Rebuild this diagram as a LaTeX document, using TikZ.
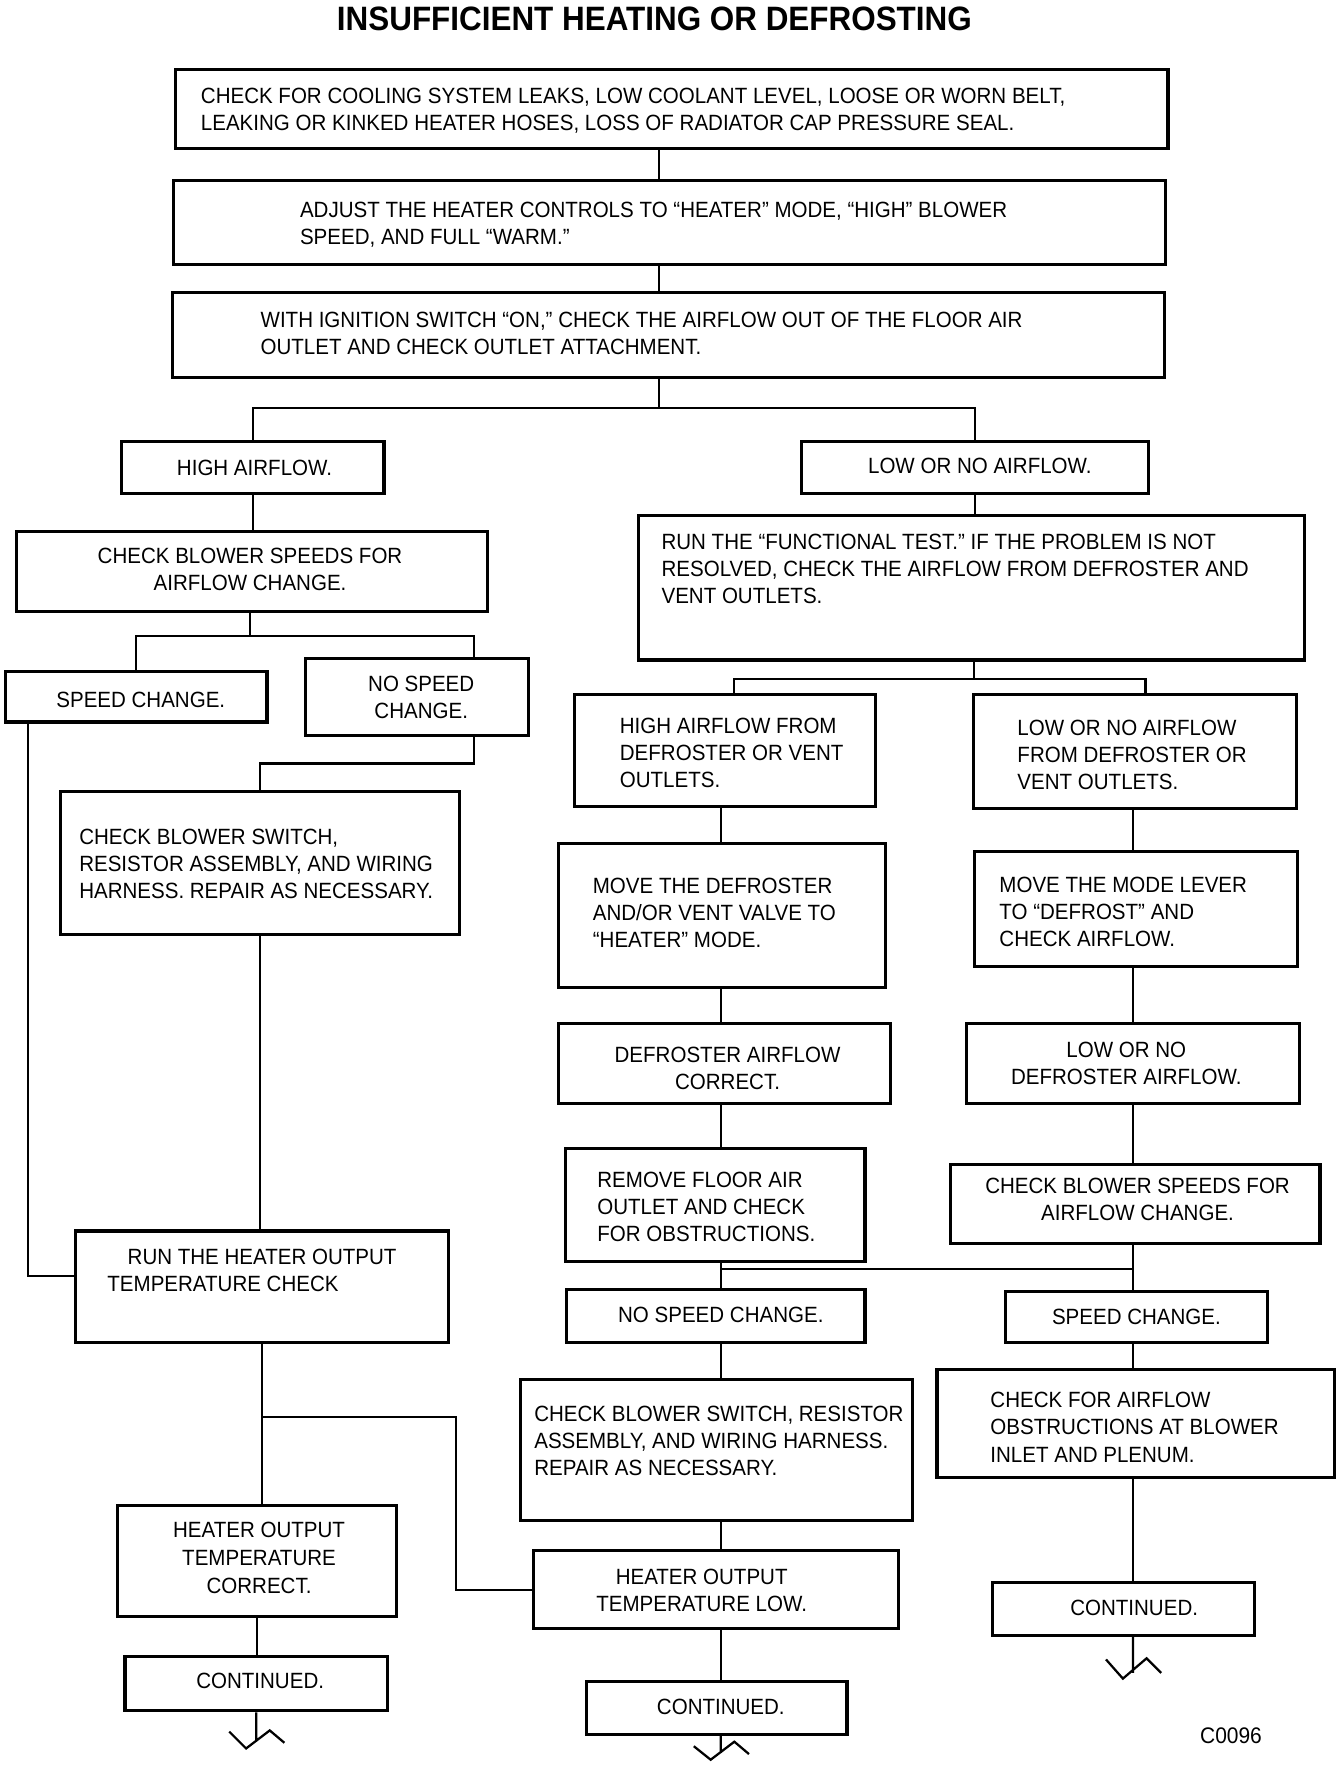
\documentclass[tikz,border=0pt]{standalone}
\usepackage{fontspec}
\setmainfont{Liberation Sans}[FakeStretch=0.93]
\newfontfamily\titlefont{Liberation Sans}[FakeStretch=0.93]
\usetikzlibrary{fit}

\begin{document}
\begin{tikzpicture}[
  x=0.5pt, y=-0.5pt,
  font=\fontsize{9.8}{12}\selectfont,
  box/.style={draw,line width=1.4pt,inner sep=0pt},
  txt/.style={anchor=north west,align=left,inner sep=0pt},
  ctxt/.style={anchor=north,align=center,inner sep=0pt},
  wire/.style={line width=1pt}
]
\useasboundingbox (0,0) rectangle (1193,1568);

\node[font=\titlefont\bfseries\fontsize{15}{18}\selectfont] (title) at (581,17) {INSUFFICIENT HEATING OR DEFROSTING};

\node[box,fit={(156,62) (1037,132)}] (cool) {};
\node[txt] (coolT) at (178,78) {CHECK FOR COOLING SYSTEM LEAKS, LOW COOLANT LEVEL, LOOSE OR WORN BELT,\\LEAKING OR KINKED HEATER HOSES, LOSS OF RADIATOR CAP PRESSURE SEAL.};
\node[box,fit={(154,160) (1035,235)}] (adj) {};
\node[txt] (adjT) at (266,179) {ADJUST THE HEATER CONTROLS TO “HEATER” MODE, “HIGH” BLOWER\\SPEED, AND FULL “WARM.”};
\node[box,fit={(153,260) (1034,335)}] (ign) {};
\node[txt] (ignT) at (231,277) {WITH IGNITION SWITCH “ON,” CHECK THE AIRFLOW OUT OF THE FLOOR AIR\\OUTLET AND CHECK OUTLET ATTACHMENT.};

\node[box,fit={(108,392) (341,438)}] (hiair) {};
\node[ctxt] (hiairT) at (226,408) {HIGH AIRFLOW.};
\node[box,fit={(712,392) (1020,438)}] (lowair) {};
\node[ctxt] (lowairT) at (870,406) {LOW OR NO AIRFLOW.};

\node[box,fit={(15,472) (433,543)}] (blowL) {};
\node[ctxt] (blowLT) at (222,486) {CHECK BLOWER SPEEDS FOR\\AIRFLOW CHANGE.};
\node[box,fit={(5,596) (237,641)}] (spdL) {};
\node[ctxt] (spdLT) at (125,614) {SPEED CHANGE.};
\node[box,fit={(271,585) (469,653)}] (nospdL) {};
\node[ctxt] (nospdLT) at (374,600) {NO SPEED\\CHANGE.};
\node[box,fit={(54,703) (408,830)}] (cbsL) {};
\node[txt] (cbsLT) at (70,736) {CHECK BLOWER SWITCH,\\RESISTOR ASSEMBLY, AND WIRING\\HARNESS. REPAIR AS NECESSARY.};
\node[box,fit={(67,1093) (398,1192)}] (runH) {};
\node[txt] (runHT) at (95,1109) {\hspace*{9pt}RUN THE HEATER OUTPUT\\TEMPERATURE CHECK};
\node[box,fit={(104,1337) (352,1435)}] (hcorr) {};
\node[ctxt,font=\fontsize{9.8}{12.5}\selectfont] (hcorrT) at (230,1351) {HEATER OUTPUT\\TEMPERATURE\\CORRECT.};
\node[box,fit={(111,1471) (344,1519)}] (contL) {};
\node[ctxt] (contLT) at (231,1485) {CONTINUED.};

\node[box,fit={(567,458) (1158,586)}] (func) {};
\node[txt] (funcT) at (587,474) {RUN THE “FUNCTIONAL TEST.” IF THE PROBLEM IS NOT\\RESOLVED, CHECK THE AIRFLOW FROM DEFROSTER AND\\VENT OUTLETS.};
\node[box,fit={(510,617) (777,716)}] (hiF) {};
\node[txt] (hiFT) at (550,637) {HIGH AIRFLOW FROM\\DEFROSTER OR VENT\\OUTLETS.};
\node[box,fit={(864,617) (1151,718)}] (loF) {};
\node[txt] (loFT) at (903,639) {LOW OR NO AIRFLOW\\FROM DEFROSTER OR\\VENT OUTLETS.};
\node[box,fit={(496,749) (786,877)}] (movD) {};
\node[txt] (movDT) at (526,779) {MOVE THE DEFROSTER\\AND/OR VENT VALVE TO\\“HEATER” MODE.};
\node[box,fit={(865,756) (1152,858)}] (modeL) {};
\node[txt] (modeLT) at (887,778) {MOVE THE MODE LEVER\\TO “DEFROST” AND\\CHECK AIRFLOW.};
\node[box,fit={(496,909) (791,980)}] (dcorr) {};
\node[ctxt] (dcorrT) at (646,929) {DEFROSTER AIRFLOW\\CORRECT.};
\node[box,fit={(858,909) (1154,980)}] (lodef) {};
\node[ctxt] (lodefT) at (1000,925) {LOW OR NO\\DEFROSTER AIRFLOW.};
\node[box,fit={(502,1020) (768,1120)}] (remF) {};
\node[txt] (remFT) at (530,1040) {REMOVE FLOOR AIR\\OUTLET AND CHECK\\FOR OBSTRUCTIONS.};
\node[box,fit={(844,1034) (1172,1104)}] (blowR) {};
\node[ctxt] (blowRT) at (1010,1046) {CHECK BLOWER SPEEDS FOR\\AIRFLOW CHANGE.};
\node[box,fit={(503,1145) (768,1192)}] (nospdM) {};
\node[ctxt] (nospdMT) at (640,1160) {NO SPEED CHANGE.};
\node[box,fit={(893,1147) (1125,1192)}] (spdR) {};
\node[ctxt] (spdRT) at (1009,1162) {SPEED CHANGE.};
\node[box,fit={(462,1225) (810,1350)}] (cbsM) {};
\node[txt] (cbsMT) at (474,1248) {CHECK BLOWER SWITCH, RESISTOR\\ASSEMBLY, AND WIRING HARNESS.\\REPAIR AS NECESSARY.};
\node[box,fit={(832,1216) (1185,1312)}] (obst) {};
\node[txt] (obstT) at (879,1236) {CHECK FOR AIRFLOW\\OBSTRUCTIONS AT BLOWER\\INLET AND PLENUM.};
\node[box,fit={(474,1377) (798,1446)}] (hlow) {};
\node[ctxt] (hlowT) at (623,1393) {HEATER OUTPUT\\TEMPERATURE LOW.};
\node[box,fit={(521,1493) (752,1540)}] (contM) {};
\node[ctxt] (contMT) at (640,1508) {CONTINUED.};
\node[box,fit={(881,1405) (1114,1452)}] (contR) {};
\node[ctxt] (contRT) at (1007,1420) {CONTINUED.};

\node[font=\fontsize{10}{12}\selectfont] (code) at (1093,1541) {C0096};

\coordinate (j1) at (585,362);
\coordinate (j2) at (222,565);
\coordinate (j2b) at (421,565);
\coordinate (j3) at (421,678);
\coordinate (j4) at (25,1133);
\coordinate (j5) at (405,1258);
\coordinate (j6) at (865,603);
\coordinate (j6a) at (652,603);
\coordinate (j6b) at (1017,603);
\coordinate (tee) at (640,1127);
\coordinate (mcol) at (640,0);
\coordinate (rcol) at (1006,0);

\draw[wire] (cool.south -| j1) -- (adj.north -| j1);
\draw[wire] (adj.south -| j1) -- (ign.north -| j1);
\draw[wire] (ign.south -| j1) -- (j1);
\draw[wire] (hiair.north) |- (j1) -| (lowair.north);

\draw[wire] (hiair.south) -- (hiair.south |- blowL.north);
\draw[wire] (blowL.south -| j2) -- (j2);
\draw[wire] (spdL.north) |- (j2b) -- (nospdL.north -| j2b);
\draw[wire] (nospdL.south -| j3) -- (j3) -| (cbsL.north);
\draw[wire] (spdL.south -| j4) -- (j4) -- (j4 -| runH.west);
\draw[wire] (cbsL.south) -- (cbsL.south |- runH.north);
\draw[wire] (runH.south) -- (runH.south |- hcorr.north);
\draw[wire] (runH.south |- j5) -- (j5) |- (hlow.west);
\draw[wire] (hcorr.south) -- (hcorr.south |- contL.north);

\draw[wire] (lowair.south) -- (lowair.south |- func.north);
\draw[wire] (func.south -| j6) -- (j6);
\draw[wire] (hiF.north -| j6a) -- (j6a) -- (j6b) -- (loF.north -| j6b);

\draw[wire] (hiF.south -| mcol) -- (movD.north -| mcol);
\draw[wire] (movD.south -| mcol) -- (dcorr.north -| mcol);
\draw[wire] (dcorr.south -| mcol) -- (remF.north -| mcol);
\draw[wire] (remF.south -| mcol) -- (nospdM.north -| mcol);
\draw[wire] (nospdM.south -| mcol) -- (cbsM.north -| mcol);
\draw[wire] (cbsM.south -| mcol) -- (hlow.north -| mcol);
\draw[wire] (hlow.south -| mcol) -- (contM.north -| mcol);

\draw[wire] (loF.south -| rcol) -- (modeL.north -| rcol);
\draw[wire] (modeL.south -| rcol) -- (lodef.north -| rcol);
\draw[wire] (lodef.south -| rcol) -- (blowR.north -| rcol);
\draw[wire] (blowR.south -| rcol) -- (spdR.north -| rcol);
\draw[wire] (spdR.south -| rcol) -- (obst.north -| rcol);
\draw[wire] (obst.south -| rcol) -- (contR.north -| rcol);
\draw[wire] (tee) -- (tee -| rcol);

\draw[wire] (contL.south) -- ++(0,26) ++(-24,-9) -- ++(15,15) -- ++(21,-16) -- ++(13,11);
\draw[wire] (contM.south -| mcol) -- ++(0,15) ++(-24,-6) -- ++(15,12) -- ++(21,-16) -- ++(13,11);
\draw[wire] (contR.south -| rcol) -- ++(0,32) ++(-24,-12) -- ++(15,17) -- ++(21,-18) -- ++(13,13);
\end{tikzpicture}
\end{document}
